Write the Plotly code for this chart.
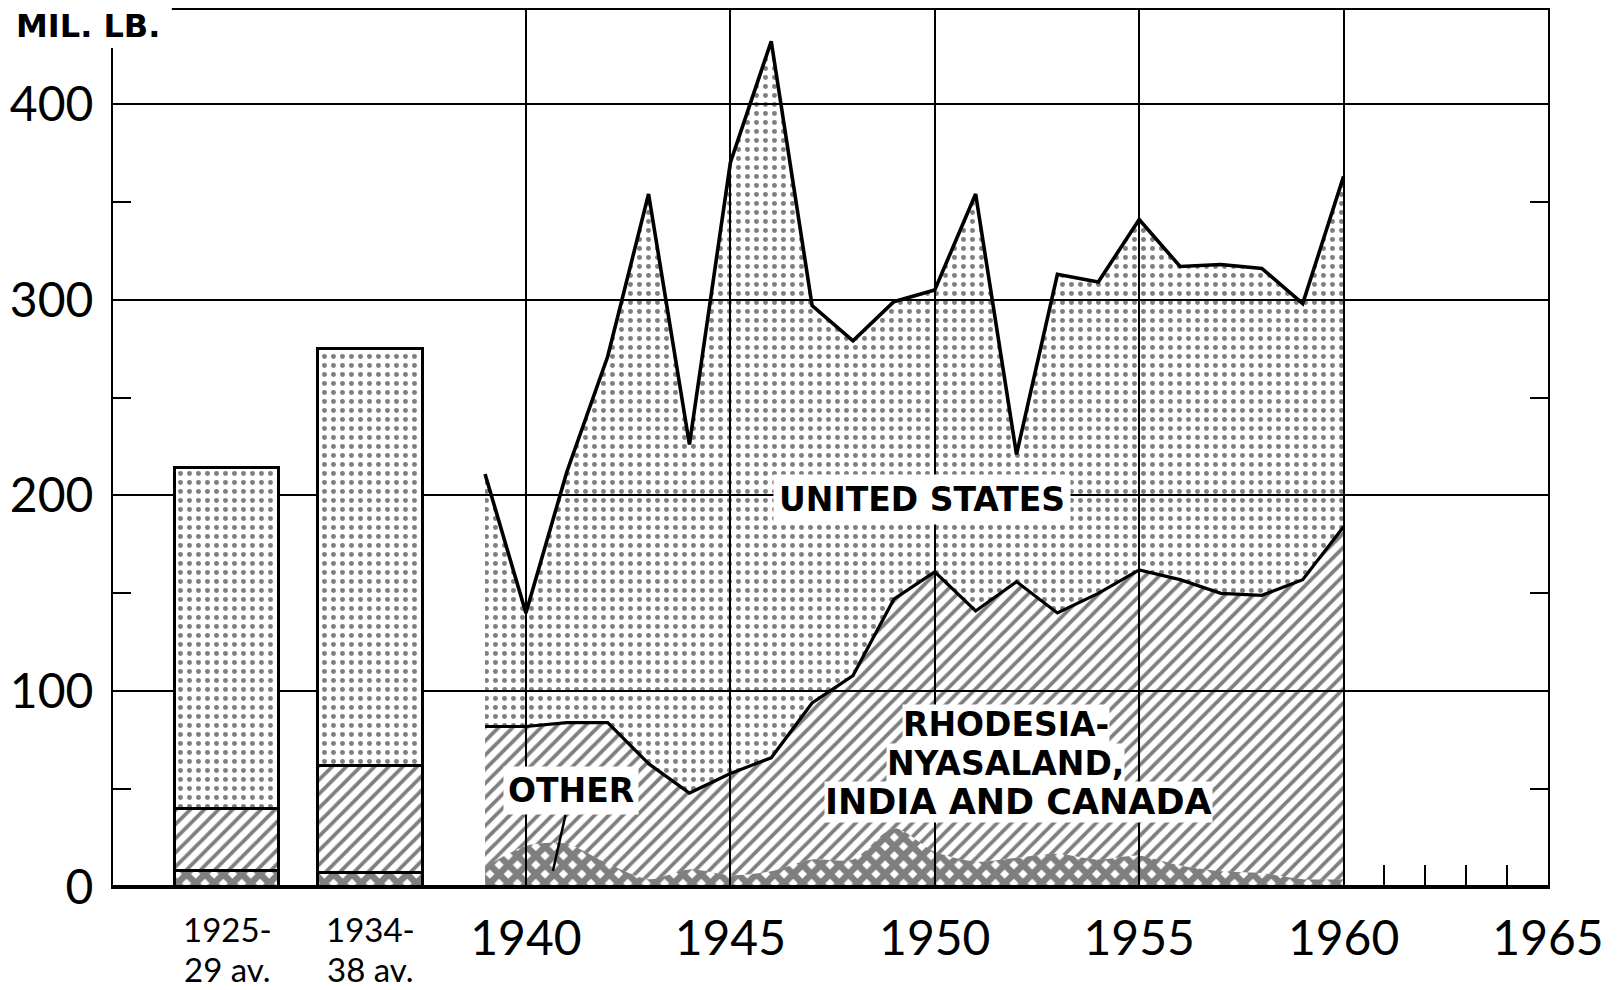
import plotly.graph_objects as go

# ---------------- data (million lb.) ----------------
years = list(range(1939, 1961))
other = [10, 21, 22, 12, 4, 9, 6, 8, 14, 14, 30, 18, 13, 15, 17, 14, 16, 11, 8, 7, 4, 4]
rhodesia_india_canada = [72, 61, 62, 72, 59, 39, 52, 58, 80, 94, 117, 143, 128, 141, 123, 136, 146, 146, 142, 142, 153, 180]
united_states = [129, 58, 128, 187, 291, 178, 312, 366, 203, 171, 152, 144, 213, 65, 173, 159, 179, 160, 168, 167, 141, 179]

period_labels = [["1925-", "29 av."], ["1934-", "38 av."]]
period_other = [8, 7]
period_rhodesia_india_canada = [32, 55]
period_united_states = [174, 213]

year_ticks = [1940, 1945, 1950, 1955, 1960, 1965]
y_ticks = [0, 50, 100, 150, 200, 250, 300, 350, 400]

# ---------------- layout constants ----------------
# the page body adds an 8px margin, so the figure is 8px smaller than the window
FIG_W, FIG_H = 1612, 982
period_x = [1932.69, 1936.2]
BAR_W = 2.55
NUM_FONT = "Lato"
LAB_FONT = "DejaVu Sans"

dots = dict(shape=".", size=9, solidity=0.24, fgcolor="black", bgcolor="rgba(0,0,0,0)")
hatch = dict(shape="/", size=10, solidity=0.38, fgcolor="black", bgcolor="rgba(0,0,0,0)")
cross = dict(shape="x", size=13, solidity=0.75, fgcolor="black", bgcolor="rgba(0,0,0,0)")

fig = go.Figure()

# stacked areas
fig.add_trace(go.Scatter(x=years, y=other, stackgroup="a", mode="lines",
                         line=dict(width=0, color="black", shape="spline", smoothing=0.8),
                         fillcolor="black", fillpattern=cross, name="OTHER"))
fig.add_trace(go.Scatter(x=years, y=rhodesia_india_canada, stackgroup="a", mode="lines",
                         line=dict(width=3.2, color="black"),
                         fillcolor="black", fillpattern=hatch, name="RHODESIA-NYASALAND, INDIA AND CANADA"))
fig.add_trace(go.Scatter(x=years, y=united_states, stackgroup="a", mode="lines",
                         line=dict(width=3.6, color="black"),
                         fillcolor="black", fillpattern=dots, name="UNITED STATES"))

# period-average bars
bar_line = dict(color="black", width=3.5)
for vals, pat in [(period_other, cross), (period_rhodesia_india_canada, hatch), (period_united_states, dots)]:
    p = dict(pat)
    p["bgcolor"] = "white"
    fig.add_trace(go.Bar(x=period_x, y=vals, width=BAR_W,
                         marker=dict(color="white", line=bar_line, pattern=p)))

ann = []
# unit label
ann.append(dict(text="MIL. LB.", xref="paper", yref="paper", x=-0.0171, y=0.982,
                xanchor="center", yanchor="middle", showarrow=False,
                font=dict(family=LAB_FONT, size=32, weight="bold", color="black")))
# period labels under bars (two lines each)
for px, (l1, l2) in zip(period_x, period_labels):
    ann.append(dict(text=l1, x=px, y=0, xref="x", yref="y", yanchor="middle", xanchor="center",
                    yshift=-42, showarrow=False, font=dict(family=NUM_FONT, size=33, color="black")))
    ann.append(dict(text=l2, x=px, y=0, xref="x", yref="y", yanchor="middle", xanchor="center",
                    yshift=-82, showarrow=False, font=dict(family=NUM_FONT, size=33, color="black")))
# series labels
lab_font = dict(family=LAB_FONT, size=33, weight="bold", color="black")
ann.append(dict(text="UNITED STATES", x=1949.69, y=197.7, showarrow=False, bgcolor="white",
                borderpad=5, font=lab_font))
ann.append(dict(text="RHODESIA-", x=1951.75, y=82.8, showarrow=False, bgcolor="white",
                borderpad=0, font=lab_font))
ann.append(dict(text="NYASALAND,", x=1951.72, y=63.3, showarrow=False, bgcolor="white",
                borderpad=0, font=lab_font))
ann.append(dict(text="INDIA AND CANADA", x=1952.04, y=43.4, showarrow=False, bgcolor="white",
                borderpad=0, font=dict(family=LAB_FONT, size=35, weight="bold", color="black")))
ann.append(dict(text="OTHER", x=1940.66, y=8.2, ax=18, ay=-80, showarrow=True, arrowhead=0,
                arrowwidth=2.5, arrowcolor="black", bgcolor="white", borderpad=4, font=lab_font))

# white mask so the frame stays open around the unit label (as in the original)
shapes = [dict(type="rect", xref="paper", yref="paper", x0=-0.02, x1=0.041, y0=0.9567, y1=1.01,
               fillcolor="white", line=dict(width=0), layer="above")]

fig.update_layout(
    width=FIG_W, height=FIG_H,
    margin=dict(l=105, r=72, t=2, b=103, autoexpand=False),
    paper_bgcolor="white", plot_bgcolor="white",
    showlegend=False, barmode="stack", bargap=0,
    annotations=ann, shapes=shapes,
    xaxis=dict(range=[1929.9, 1965], tickmode="array", tickvals=year_ticks,
               ticktext=[str(v) for v in year_ticks], automargin=False,
               showgrid=True, gridcolor="black", gridwidth=1.8,
               showline=True, mirror=True, linecolor="black", linewidth=2,
               ticks="", zeroline=False, ticklabelstandoff=8,
               tickfont=dict(family=NUM_FONT, size=48, color="black"),
               minor=dict(tickmode="array", tickvals=[1961, 1962, 1963, 1964], ticks="inside",
                          ticklen=22, tickwidth=2, tickcolor="black", showgrid=False)),
    yaxis=dict(range=[0, 448], tickmode="array", tickvals=y_ticks,
               ticktext=[str(v) if v % 100 == 0 else "" for v in y_ticks], automargin=False,
               ticks="inside", ticklen=18, tickwidth=2, tickcolor="black",
               showgrid=False, showline=True, linecolor="black", linewidth=2, mirror="ticks",
               zeroline=True, zerolinewidth=4, zerolinecolor="black", ticklabelstandoff=8,
               tickfont=dict(family=NUM_FONT, size=48, color="black"),
               minor=dict(tickmode="array", tickvals=[100, 200, 300, 400], showgrid=True,
                          gridcolor="black", gridwidth=1.8, ticks="")),
)

fig.write_html("out.html")
